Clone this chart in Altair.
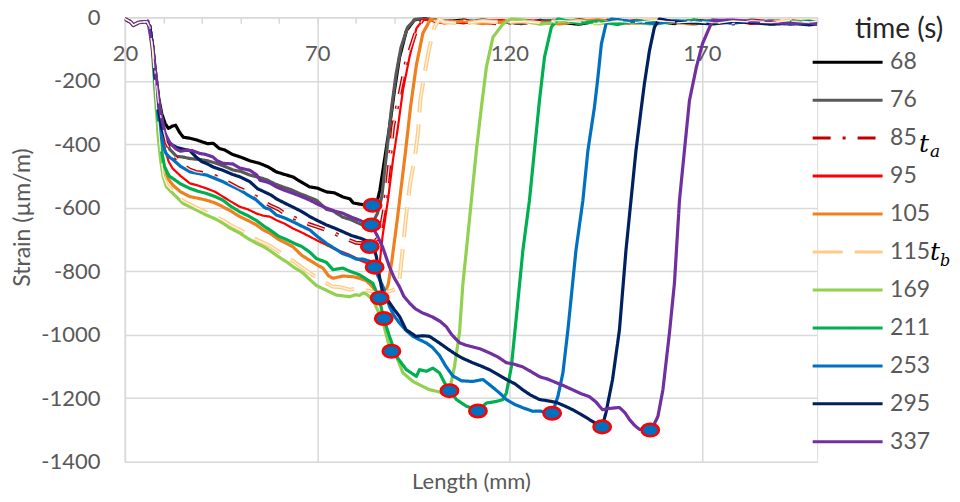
import altair as alt
import pandas as pd

# ---------------- data ----------------
TIMES = ["68", "76", "85", "95", "105", "115", "169", "211", "253", "295", "337"]
COLORS = ["#000000", "#595959", "#C00000", "#FF0000", "#F07F1E", "#FFCB85",
          "#92D050", "#00B050", "#0070C0", "#002060", "#7030A0"]
DASHES = [[1, 0], [1, 0], [18, 12, 3, 12], [1, 0], [1, 0], [30, 12],
          [1, 0], [1, 0], [1, 0], [1, 0], [1, 0]]

START_X = [20, 21.5, 22.2, 23.5, 25, 25.8]
START_Y = [-5, -15, -25, -17, -14, -15]

X_68 = [26.5, 27.2, 28.0, 28.8, 29.6, 30.5, 31.3, 32.3, 33.2, 34.2, 35.2, 36.9, 38.5, 40.0, 41.5,
        43.0, 44.5, 46.0, 48.0, 50.0, 52.5, 55.0, 57.0, 59.4, 61.5, 63.7, 66.0, 68.0, 70.0, 72.4,
        74.5, 76.7, 78.5, 79.4, 81.8, 83.7, 84.4, 85.5, 86.3, 87.5, 88.8, 90.1, 91.4, 93.2, 95.3]
Y_68 = [-30, -90, -175, -255, -305, -335, -350, -343, -340, -362, -378, -381, -386, -392, -398,
        -397, -413, -418, -432, -440, -452, -460, -470, -487, -495, -503, -520, -534, -538, -550,
        -553, -566, -572, -585, -590, -594, -596, -585, -545, -450, -347, -230, -127, -42, -8]

X_76 = [26.5, 27.2, 28.0, 28.8, 29.8, 30.8, 31.6, 33.4, 35.0, 36.9, 39.5, 41.5, 43.8, 46.0, 48.1,
        50.0, 52.5, 55.0, 56.9, 59.0, 61.0, 63.0, 65.4, 67.5, 69.8, 72.4, 74.1, 76.7, 78.5, 81.0,
        82.8, 84.1, 85.7, 86.8, 87.4, 88.3, 89.3, 90.5, 91.8, 93.5, 95.5]
Y_76 = [-30, -92, -180, -262, -330, -385, -415, -438, -440, -445, -448, -452, -460, -470, -481,
        -485, -497, -505, -512, -525, -534, -542, -555, -565, -576, -605, -610, -630, -636, -650,
        -660, -655, -617, -566, -500, -400, -290, -180, -95, -32, -6]

X_85 = [26.5, 27.2, 28.0, 28.8, 29.8, 30.8, 32.0, 33.5, 35.0, 36.9, 38.5, 40.0, 42.9, 46.0, 49.9,
        52.0, 54.0, 56.0, 57.7, 60.0, 62.0, 63.7, 66.0, 68.0, 70.0, 72.4, 74.5, 76.0, 78.0, 80.0,
        82.0, 83.7, 85.0, 86.2, 87.5, 88.7, 89.7, 91.3, 93.2, 95.8, 97.5]
Y_85 = [-30, -95, -190, -275, -345, -395, -425, -445, -465, -480, -487, -490, -497, -515, -540,
        -550, -565, -580, -592, -605, -622, -630, -643, -652, -660, -670, -680, -690, -700, -710,
        -712, -722, -705, -691, -600, -471, -346, -251, -136, -40, -6]

X_95 = [26.5, 27.2, 28.0, 28.8, 29.6, 30.5, 31.4, 32.4, 34.5, 36.9, 39.0, 41.2, 43.5, 45.5, 47.5,
        49.9, 52.0, 54.2, 56.0, 57.7, 59.4, 61.5, 63.7, 66.0, 68.1, 70.0, 72.4, 74.5, 76.7, 78.0,
        79.4, 81.0, 82.5, 83.6, 85.0, 86.3, 87.0, 88.4, 89.7, 91.0, 92.3, 94.0, 95.8, 97.5]
Y_95 = [-30, -97, -200, -290, -365, -420, -455, -476, -500, -523, -530, -539, -550, -565, -580,
        -597, -605, -618, -625, -628, -639, -650, -665, -678, -691, -703, -717, -730, -740, -746,
        -754, -765, -772, -780, -787, -770, -690, -576, -450, -346, -230, -126, -35, -8]

X_105 = [26.5, 27.2, 28.0, 28.8, 29.5, 30.3, 31.3, 32.5, 34.5, 36.9, 39.0, 41.2, 43.5, 45.5, 47.5,
         49.9, 52.0, 54.2, 56.0, 57.7, 60.0, 62.0, 63.7, 66.0, 68.0, 70.0, 71.5, 73.0, 74.1, 76.7,
         79.3, 81.0, 82.8, 84.5, 85.4, 86.3, 87.5, 88.5, 89.5, 90.8, 91.8, 93.0, 94.3, 95.8, 97.5,
         99.5]
Y_105 = [-32, -100, -235, -335, -420, -480, -510, -529, -550, -565, -570, -576, -585, -597, -610,
         -628, -640, -654, -670, -680, -700, -712, -723, -750, -765, -780, -790, -815, -822, -815,
         -817, -822, -830, -850, -870, -884, -872, -840, -760, -640, -540, -420, -280, -150, -50,
         -6]

X_115 = [26.5, 27.2, 28.0, 28.8, 29.4, 30.0, 31.0, 32.5, 35.0, 38.6, 41.2, 43.5, 45.5, 47.5, 49.9,
         52.0, 54.2, 57.7, 60.0, 62.0, 64.0, 66.3, 68.0, 70.0, 72.0, 74.0, 76.0, 78.5, 81.0, 82.8,
         85.0, 86.5, 88.0, 89.5, 90.6, 91.4, 92.3, 93.2, 94.2, 95.3, 96.2, 96.8, 97.9, 99.2, 100.5,
         101.8]
Y_115 = [-33, -105, -250, -360, -440, -500, -530, -548, -578, -600, -615, -628, -640, -655, -670,
         -683, -700, -720, -738, -755, -770, -790, -805, -820, -835, -848, -850, -858, -853, -860,
         -865, -868, -866, -860, -855, -827, -723, -618, -520, -450, -366, -262, -178, -94, -31,
         -5]

X_169 = [26.5, 27.2, 28.0, 28.7, 29.3, 30.0, 30.8, 32.5, 35.1, 38.6, 41.2, 43.5, 45.5, 47.5, 49.9,
         52.0, 54.2, 56.0, 57.7, 60.0, 62.0, 64.0, 66.3, 68.0, 69.8, 72.4, 75.0, 77.0, 78.5, 80.0,
         81.0, 82.0, 82.8, 84.5, 86.2, 87.3, 88.8, 89.3, 90.6, 92.3, 94.9, 97.0, 99.2, 101.0, 102.7,
         104.4, 105.7, 107.0, 107.9, 108.8, 110.1, 111.4, 112.7, 114.0, 115.7, 118.3, 120.5]
Y_169 = [-33, -108, -260, -380, -450, -503, -534, -555, -586, -607, -623, -635, -649, -665, -680,
         -697, -712, -722, -735, -755, -770, -788, -805, -825, -845, -860, -875, -878, -880, -874,
         -876, -868, -872, -890, -935, -968, -1040, -1052, -1068, -1120, -1147, -1160, -1173, -1178, -1183,
         -1176, -1100, -994, -838, -733, -576, -419, -283, -157, -63, -21, -5]

X_211 = [26.5, 27.2, 28.0, 28.8, 29.5, 30.3, 31.5, 32.5, 34.5, 36.9, 39.0, 41.2, 43.5, 45.5, 47.5,
         49.9, 52.0, 54.2, 56.4, 58.0, 60.0, 62.0, 64.0, 66.0, 68.1, 69.8, 72.4, 74.1, 76.7, 78.5,
         81.0, 82.8, 84.5, 86.2, 87.3, 88.8, 90.6, 93.2, 95.8, 96.6, 98.4, 100.1, 101.8, 103.6, 106.2,
         108.8, 110.5, 111.8, 114.0, 116.6, 118.3, 119.2, 120.5, 121.8, 123.5, 125.2, 126.5, 127.8,
         129.1, 130.9, 132.6]
Y_211 = [-32, -100, -240, -340, -420, -470, -500, -508, -525, -539, -548, -555, -565, -576, -595,
         -613, -625, -640, -660, -672, -690, -700, -712, -722, -740, -760, -772, -795, -790, -800,
         -811, -825, -838, -890, -949, -1005, -1068, -1110, -1131, -1110, -1115, -1105, -1120, -1162, -1204,
         -1225, -1232, -1240, -1215, -1210, -1204, -1183, -1100, -943, -733, -576, -419, -262,
         -126, -31, -5]

X_253 = [26.5, 27.2, 28.0, 28.8, 29.6, 30.5, 31.5, 32.5, 34.5, 36.9, 39.0, 41.2, 43.5, 45.5, 47.5,
         49.9, 52.0, 54.2, 56.4, 57.7, 59.4, 61.5, 63.7, 66.0, 68.1, 70.0, 72.4, 74.5, 76.7, 78.5,
         80.2, 82.0, 83.6, 84.95, 85.8, 87.1, 88.8, 90.0, 91.4, 93.0, 94.9, 96.5, 98.4, 100.0, 101.8,
         103.5, 105.3, 107.5, 110.5, 113.1, 114.8, 117.4, 119.2, 121.5, 123.5, 126.1, 128.0, 129.6,
         131.1, 132.6, 133.9, 135.2, 137.3, 139.1, 140.4, 142.1, 143.0, 143.9, 145.1, 146.5]
Y_253 = [-30, -95, -215, -310, -385, -425, -440, -448, -470, -487, -492, -497, -508, -518, -530,
         -544, -560, -576, -600, -605, -623, -632, -644, -658, -670, -690, -712, -728, -745, -752,
         -762, -762, -768, -787, -815, -848, -911, -940, -963, -985, -1005, -1015, -1026, -1040, -1065,
         -1100, -1130, -1145, -1147, -1141, -1157, -1183, -1204, -1220, -1230, -1241, -1240, -1246,
         -1248, -1194, -1120, -984, -733, -576, -419, -283, -189, -84, -21, -5]

X_295 = [26.5, 27.2, 28.0, 28.8, 29.6, 30.8, 32.0, 33.4, 35.0, 36.9, 38.5, 40.0, 41.5, 43.0, 45.5,
         48.0, 50.0, 52.5, 54.5, 56.8, 58.0, 59.4, 61.5, 63.7, 66.0, 68.1, 70.0, 72.4, 74.5, 76.6,
         79.0, 81.0, 83.6, 84.6, 85.4, 86.2, 87.0, 88.8, 90.0, 91.4, 93.1, 95.7, 97.5, 99.2, 101.8,
         104.0, 106.2, 108.0, 110.4, 112.5, 114.8, 117.0, 119.2, 121.5, 123.4, 125.5, 127.8, 130.0,
         132.2, 134.5, 136.4, 138.5, 140.8, 142.5, 144.1, 145.1, 146.8, 148.6, 150.3, 151.6, 152.9,
         154.2, 155.1, 156.4, 157.7, 159.0]
Y_295 = [-30, -90, -205, -295, -350, -387, -400, -410, -415, -420, -440, -455, -462, -472, -482,
         -495, -503, -518, -540, -553, -560, -572, -585, -598, -612, -628, -640, -654, -664, -675,
         -688, -695, -707, -720, -754, -817, -868, -899, -920, -942, -984, -1005, -1003, -1005, -1026,
         -1045, -1063, -1075, -1088, -1098, -1110, -1125, -1141, -1155, -1173, -1190, -1204, -1208,
         -1213, -1225, -1236, -1250, -1267, -1280, -1290, -1245, -1141, -984, -733, -576, -419,
         -293, -208, -105, -31, -5]

X_337 = [26.0, 27.0, 28.3, 29.1, 30.4, 31.7, 33.3, 34.5, 35.9, 37.5, 39.5, 41.0, 42.9, 44.0, 45.5,
         48.1, 49.9, 52.5, 54.3, 55.1, 57.7, 59.5, 61.5, 63.6, 66.0, 68.1, 70.0, 72.4, 74.5, 76.6,
         79.0, 81.0, 83.6, 84.4, 85.5, 87.0, 88.8, 90.0, 91.4, 92.5, 94.0, 95.5, 97.4, 100.0, 102.0,
         103.6, 105.0, 107.0, 108.5, 110.4, 112.5, 114.8, 117.0, 119.2, 121.0, 123.4, 125.5, 127.8,
         130.0, 132.2, 134.0, 136.4, 138.5, 140.8, 142.5, 144.2, 146.0, 148.6, 150.0, 151.2, 152.5,
         153.8, 156.4, 157.5, 158.6, 159.9, 161.6, 162.9, 164.2, 165.5, 166.8, 168.6, 170.2, 172.8]
Y_337 = [-12, -83, -208, -293, -365, -395, -415, -422, -419, -420, -429, -432, -440, -452, -460,
         -462, -475, -482, -497, -513, -522, -535, -545, -554, -565, -576, -588, -601, -610, -617,
         -630, -639, -654, -661, -685, -723, -786, -820, -849, -878, -900, -918, -931, -944, -958,
         -975, -1000, -1025, -1032, -1038, -1045, -1057, -1070, -1088, -1092, -1101, -1115, -1132,
         -1140, -1151, -1160, -1173, -1185, -1195, -1212, -1236, -1232, -1229, -1245, -1267, -1285,
         -1298, -1298, -1285, -1257, -1173, -994, -837, -577, -419, -262, -157, -83, -10]

# noisy plateau near zero after each curve has recovered
TAIL_X = [98, 103, 108, 113, 118, 123, 128, 133, 138, 143, 148, 153, 158, 163, 168, 173, 178, 183,
          188, 193, 198, 200]
T_68 = [-4, -14, -9, -18, -12, -20, -10, -16, -22, -12, -8, -17, -13, -20, -9, -15, -11, -18, -14, -21, -16, -19]
T_76 = [-6, -11, -17, -8, -15, -19, -12, -9, -17, -14, -20, -10, -16, -12, -18, -9, -14, -17, -11, -16, -20, -18]
T_85 = [-8, -16, -10, -14, -21, -11, -15, -18, -9, -16, -13, -19, -11, -15, -12, -17, -20, -10, -15, -12, -17, -14]
T_95 = [-5, -12, -19, -11, -9, -16, -20, -13, -11, -18, -15, -9, -19, -14, -10, -16, -13, -21, -12, -17, -14, -16]
T_105 = [-7, -18, -12, -20, -15, -10, -17, -21, -13, -8, -16, -19, -12, -17, -22, -11, -16, -12, -19, -13, -18, -20]
T_115 = [-10, -15, -20, -12, -16, -13, -19, -10, -15, -20, -12, -16, -9, -18, -14, -20, -12, -15, -17, -10, -15, -13]
T_169 = [-9, -13, -18, -11, -17, -8, -22, -14, -10, -19, -13, -18, -22, -12, -16, -19, -10, -14, -20, -15, -11, -17]
T_211 = [-11, -8, -15, -19, -10, -14, -9, -6, -20, -12, -23, -11, -17, -14, -10, -18, -15, -12, -21, -16, -13, -18]
T_253 = [-7, -13, -11, -16, -12, -18, -14, -10, -17, -12, -8, -15, -20, -11, -16, -13, -19, -12, -16, -22, -14, -18]
T_295 = [-12, -9, -14, -17, -11, -15, -20, -13, -16, -19, -12, -9, -8, -15, -18, -21, -14, -17, -22, -19, -24, -21]
T_337 = [-10, -14, -12, -18, -15, -11, -16, -19, -13, -17, -12, -15, -18, -14, -11, -6, -9, -13, -16, -20, -17, -22]

# crack-tip markers
MARK_X = [84.4, 84.1, 83.7, 84.95, 86.25, 87.3, 89.3, 104.4, 111.8, 131.1, 144.1, 156.6]
MARK_Y = [-592, -654, -722, -787, -884, -949, -1052, -1176, -1240, -1247, -1290, -1300]

Y_TICKS = [-1400, -1200, -1000, -800, -600, -400, -200, 0]
X_MINOR = [20, 30, 40, 50, 60, 70, 80, 90, 100, 110, 120, 130, 140, 150, 160, 170, 180, 190, 200]
X_MAJOR = [20, 70, 120, 170]

# ---------------- build table ----------------
SERIES = {
    "68": (X_68, Y_68, T_68), "76": (X_76, Y_76, T_76), "85": (X_85, Y_85, T_85),
    "95": (X_95, Y_95, T_95), "105": (X_105, Y_105, T_105), "115": (X_115, Y_115, T_115),
    "169": (X_169, Y_169, T_169), "211": (X_211, Y_211, T_211), "253": (X_253, Y_253, T_253),
    "295": (X_295, Y_295, T_295), "337": (X_337, Y_337, T_337),
}
rows = []
for t in TIMES:
    xs, ys, tail = SERIES[t]
    if len(xs) != len(ys) or len(tail) != len(TAIL_X):
        raise ValueError("length mismatch in series " + t)
    px = START_X + list(xs)
    py = START_Y + list(ys)
    last = xs[-1]
    for tx, ty in zip(TAIL_X, tail):
        if tx > last + 0.5:
            px.append(tx)
            py.append(ty)
    for i, (a, b) in enumerate(zip(px, py)):
        rows.append({"time": t, "x": a, "y": b, "idx": i})
df = pd.DataFrame(rows)
marks = pd.DataFrame({"x": MARK_X, "y": MARK_Y})

W, H = 693, 445
GRID = "#D9D9D9"
TXT = "#595959"
FONT = "Lato"

XSCALE = alt.Scale(domain=[20, 200], nice=False, zero=False)
YSCALE = alt.Scale(domain=[-1400, 0], nice=False, zero=False)

YAXIS = alt.Axis(values=Y_TICKS, grid=True, gridColor=GRID, gridWidth=1.5, domain=True,
                 domainColor=GRID, domainWidth=1.5, ticks=False, tickSize=0, labelColor=TXT,
                 labelFontSize=22, labelFont=FONT, labelPadding=25,
                 labelExpr="datum.value == 0 ? '0' : '-' + abs(datum.value)",
                 title="Strain (µm/m)",
                 titleColor=TXT, titleFontSize=23, titleFont=FONT, titleFontWeight="normal",
                 titlePadding=6, titleY=200)

X_TOP_AXIS = alt.Axis(orient="bottom", offset=-H, values=X_MINOR, grid=False, domain=True,
                      domainColor=GRID, domainWidth=1.5, ticks=True, tickColor=GRID,
                      tickWidth=1.5, tickSize=6, labelColor=TXT, labelFontSize=22,
                      labelFont=FONT, labelPadding=20, labelFlush=False, labelOverlap=False,
                      labelExpr="datum.value % 50 === 20 ? datum.label : ''", title=None)

X_BOTTOM_AXIS = alt.Axis(orient="bottom", values=X_MAJOR, grid=True, gridColor=GRID,
                         gridWidth=1.5, domain=False, ticks=False, labels=False,
                         title="Length (mm)", titleColor=TXT, titleFontSize=22,
                         titleFont=FONT, titleFontWeight="normal", titlePadding=10)

LEG = alt.Legend(orient="none", legendX=687, legendY=33, title=None, symbolType="stroke",
                 symbolSize=4900, symbolStrokeWidth=3, labelFontSize=23, labelFont=FONT,
                 labelColor=TXT, labelOffset=6, rowPadding=14, clipHeight=24, padding=0)

SW = (alt.when(alt.datum.time == "95").then(alt.value(2.2))
      .when((alt.datum.time == "85") | (alt.datum.time == "115")).then(alt.value(4.0))
      .otherwise(alt.value(3.2)))

lines = alt.Chart(df).mark_line(clip=True, strokeJoin="round").encode(
    x=alt.X("x:Q", scale=XSCALE, axis=X_TOP_AXIS),
    y=alt.Y("y:Q", scale=YSCALE, axis=YAXIS),
    color=alt.Color("time:N", scale=alt.Scale(domain=TIMES, range=COLORS), legend=LEG),
    strokeDash=alt.StrokeDash("time:N", scale=alt.Scale(domain=TIMES, range=DASHES), legend=LEG),
    strokeWidth=SW,
    order=alt.Order("idx:Q"),
)

inner85 = alt.Chart(df).transform_filter(alt.datum.time == "85").mark_line(
    clip=True, color="#F7D6D6", strokeWidth=1.3, strokeDash=[18, 12, 3, 12]
).encode(
    x=alt.X("x:Q", scale=XSCALE, axis=None),
    y=alt.Y("y:Q", scale=YSCALE, axis=YAXIS),
    order=alt.Order("idx:Q"),
)

inner115 = alt.Chart(df).transform_filter(alt.datum.time == "115").mark_line(
    clip=True, color="#FFF1DC", strokeWidth=1.4, strokeDash=[30, 12]
).encode(
    x=alt.X("x:Q", scale=XSCALE, axis=None),
    y=alt.Y("y:Q", scale=YSCALE, axis=YAXIS),
    order=alt.Order("idx:Q"),
)

ELLIPSE = "M-1,0A1,0.72,0,1,1,1,0A1,0.72,0,1,1,-1,0Z"
points = alt.Chart(marks).mark_point(
    shape=ELLIPSE, filled=True, fill="#0070C0", stroke="#FF0000", strokeWidth=2.6,
    size=300, opacity=1, fillOpacity=1, strokeOpacity=1
).encode(
    x=alt.X("x:Q", scale=XSCALE, axis=X_BOTTOM_AXIS),
    y=alt.Y("y:Q", scale=YSCALE, axis=YAXIS),
)

one = alt.Data(values=[{"k": 1}])
leg_title = alt.Chart(one).mark_text(text="time (s)", align="left", baseline="alphabetic",
                                     font=FONT, fontSize=28, color="#262626").encode(
    x=alt.value(731), y=alt.value(21))
ta_t = alt.Chart(one).mark_text(text="t", align="left", baseline="alphabetic",
                                font="DejaVu Serif", fontStyle="italic", fontSize=25,
                                color="#000000").encode(x=alt.value(795), y=alt.value(135))
ta_a = alt.Chart(one).mark_text(text="a", align="left", baseline="alphabetic",
                                font="DejaVu Serif", fontStyle="italic", fontSize=17,
                                color="#000000").encode(x=alt.value(806), y=alt.value(140))
tb_t = alt.Chart(one).mark_text(text="t", align="left", baseline="alphabetic",
                                font="DejaVu Serif", fontStyle="italic", fontSize=25,
                                color="#000000").encode(x=alt.value(806), y=alt.value(243))
tb_b = alt.Chart(one).mark_text(text="b", align="left", baseline="alphabetic",
                                font="DejaVu Serif", fontStyle="italic", fontSize=16,
                                color="#000000").encode(x=alt.value(816), y=alt.value(249))

chart = alt.layer(lines, inner85, inner115, points, leg_title, ta_t, ta_a, tb_t, tb_b).resolve_scale(
    x="independent"
).properties(
    width=W, height=H,
    autosize=alt.AutoSizeParams(type="none"),
    padding={"left": 117, "top": 9, "right": 135, "bottom": 32},
).configure_view(stroke=None).configure(font=FONT, background="white")

chart.save("out.html", embed_options={"renderer": "svg", "actions": False})
